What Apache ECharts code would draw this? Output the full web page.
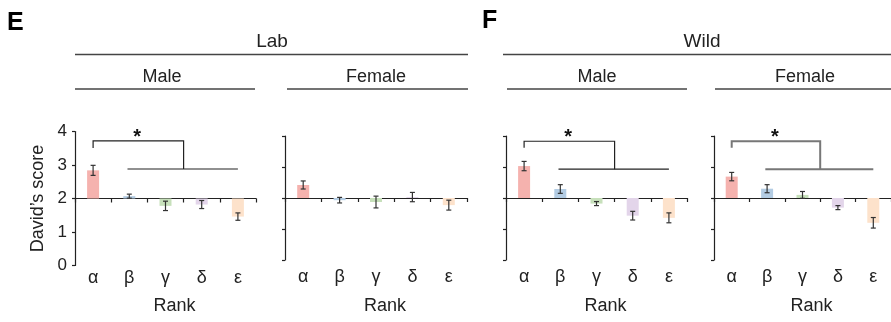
<!DOCTYPE html>
<html>
<head>
<meta charset="utf-8">
<script src="https://cdn.jsdelivr.net/npm/echarts@6/dist/echarts.min.js"></script>
<style>
  html, body { margin: 0; padding: 0; background: #fff; }
  #chart { width: 891px; height: 322px; }
</style>
</head>
<body>
<div id="chart"></div>
<script>
// Rank categories and tick values
const ranks = ['α', 'β', 'γ', 'δ', 'ε'];
const yTicks = [0, 1, 2, 3, 4];

// David's score (mean) and SEM per rank
const labMale = [2.84, 2.07, 1.78, 1.82, 1.46];
const labMaleErr = [0.15, 0.06, 0.14, 0.12, 0.11];
const labFemale = [2.42, 1.93, 1.87, 2.03, 1.77];
const labFemaleErr = [0.13, 0.09, 0.19, 0.15, 0.16];
const wildMale = [3.03, 2.29, 1.82, 1.43, 1.36];
const wildMaleErr = [0.15, 0.14, 0.065, 0.14, 0.16];
const wildFemale = [2.69, 2.30, 2.10, 1.69, 1.20];
const wildFemaleErr = [0.135, 0.13, 0.11, 0.065, 0.17];

// Baseline of the score (expected value for random rank)
const baseline = 2;

const rankColors = ['#f5b2ae', '#b3cce3', '#c7e0bb', '#e3d5ea', '#fde2cb'];

// Panel frames
const panels = [
  { left: 75, top: 131.5, width: 181, height: 134, values: labMale, errs: labMaleErr, yLabels: true, labelMargin: 4,
    bracket: { yTop: 3.72, yDrop: 3.51, yLow: 2.88, yStar: 3.96 }, bracketColor: '#222', bracketWidth: 1.2 },
  { left: 285, top: 136, width: 182, height: 124, values: labFemale, errs: labFemaleErr, yLabels: false, labelMargin: 8,
    bracket: null },
  { left: 506, top: 136, width: 181, height: 124, values: wildMale, errs: wildMaleErr, yLabels: false, labelMargin: 8,
    bracket: { yTop: 3.83, yDrop: 3.62, yLow: 2.93, yStar: 4.1 }, bracketColor: '#222', bracketWidth: 1.2 },
  { left: 714, top: 136, width: 182.5, height: 124, values: wildFemale, errs: wildFemaleErr, yLabels: false, labelMargin: 8,
    bracket: { yTop: 3.83, yDrop: 3.62, yLow: 2.93, yStar: 4.1 }, bracketColor: '#777', bracketWidth: 2 }
];

const FONT = 'Liberation Sans, Arial, sans-serif';

const grid = [], xAxis = [], yAxis = [], series = [];

// position along the category axis at a fractional index
function catX(api, idx, y) {
  const a = api.coord([0, y]);
  const b = api.coord([1, y]);
  return [a[0] + (b[0] - a[0]) * idx, a[1]];
}

panels.forEach((p, i) => {
  grid.push({ left: p.left, top: p.top, width: p.width, height: p.height });

  // label axis at the bottom of the panel
  xAxis.push({
    type: 'category', gridIndex: i, data: ranks, position: 'bottom',
    axisLine: { show: false }, axisTick: { show: false },
    axisLabel: { color: '#222', fontSize: 18, fontFamily: FONT, margin: p.labelMargin },
    name: 'Rank', nameLocation: 'middle', nameGap: (p.yLabels ? 32 : 37),
    nameTextStyle: { color: '#222', fontSize: 18, fontFamily: FONT, padding: [0, 0, 0, 18] }
  });
  // baseline axis drawn across the score of 2
  xAxis.push({
    type: 'category', gridIndex: i, data: ranks, position: 'bottom',
    offset: -p.height * (baseline - yTicks[0]) / (yTicks[yTicks.length - 1] - yTicks[0]),
    axisLine: { show: true, lineStyle: { color: '#222', width: 1.2 } },
    axisTick: { show: true, length: 4, lineStyle: { color: '#222', width: 1.2 } },
    axisLabel: { show: false }
  });

  yAxis.push({
    type: 'value', gridIndex: i, min: yTicks[0], max: yTicks[yTicks.length - 1], interval: 1,
    splitLine: { show: false },
    axisLine: { show: true, lineStyle: { color: '#222', width: 1.2 } },
    axisTick: { show: true, length: 3, lineStyle: { color: '#222', width: 1.2 } },
    axisLabel: { show: p.yLabels, color: '#222', fontSize: 17, fontFamily: FONT, margin: 8 },
    name: p.yLabels ? 'David\u2019s score' : '',
    nameLocation: 'middle', nameGap: 28, nameRotate: 90,
    nameTextStyle: { color: '#222', fontSize: 18, fontFamily: FONT }
  });

  const data = p.values.map((v, k) => [k, v, p.errs[k]]);

  // bars from the baseline plus SEM whiskers
  series.push({
    type: 'custom', xAxisIndex: i * 2, yAxisIndex: i, data: data, z: 3,
    renderItem: function (params, api) {
      const k = api.value(0), v = api.value(1), e = api.value(2);
      const b = api.coord([k, baseline]);
      const t = api.coord([k, v]);
      const hi = api.coord([k, v + e]);
      const lo = api.coord([k, v - e]);
      const w = 12, cap = 2.5;
      const y0 = Math.min(b[1], t[1]), h = Math.abs(b[1] - t[1]);
      const ls = { stroke: '#333', lineWidth: 1.2 };
      return {
        type: 'group',
        children: [
          { type: 'rect', shape: { x: b[0] - w / 2, y: y0, width: w, height: h }, style: { fill: rankColors[k] } },
          { type: 'line', shape: { x1: hi[0], y1: hi[1], x2: lo[0], y2: lo[1] }, style: ls },
          { type: 'line', shape: { x1: hi[0] - cap, y1: hi[1], x2: hi[0] + cap, y2: hi[1] }, style: ls },
          { type: 'line', shape: { x1: lo[0] - cap, y1: lo[1], x2: lo[0] + cap, y2: lo[1] }, style: ls }
        ]
      };
    }
  });

  // significance bracket: alpha vs. the other ranks
  if (p.bracket) {
    const bk = p.bracket;
    series.push({
      type: 'custom', xAxisIndex: i * 2, yAxisIndex: i, data: [[0]], z: 4, clip: false,
      renderItem: function (params, api) {
        const ls = { stroke: p.bracketColor, lineWidth: p.bracketWidth, fill: null };
        const a = catX(api, 0, bk.yDrop);
        const aTop = catX(api, 0, bk.yTop);
        const mTop = catX(api, 2.5, bk.yTop);
        const mLow = catX(api, 2.5, bk.yLow);
        const l1 = catX(api, 0.95, bk.yLow);
        const l2 = catX(api, 4.0, bk.yLow);
        const st = catX(api, 1.22, bk.yStar);
        return {
          type: 'group',
          children: [
            { type: 'polyline', shape: { points: [a, aTop, mTop, mLow] }, style: ls },
            { type: 'line', shape: { x1: l1[0], y1: l1[1], x2: l2[0], y2: l2[1] }, style: ls },
            { type: 'text', x: st[0], y: st[1] + 5,
              style: { text: '*', fill: '#111', font: 'bold 20px ' + FONT, align: 'center', verticalAlign: 'middle' } }
          ]
        };
      }
    });
  }
});

// headers
const headText = (text, x, y, size, bold) => ({
  type: 'text', x: x, y: y,
  style: { text: text, fill: bold ? '#000' : '#222', font: (bold ? 'bold ' : '') + size + 'px ' + FONT,
           align: bold ? 'left' : 'center', verticalAlign: 'middle' }
});
const headLine = (x1, x2, y) => ({
  type: 'line', shape: { x1: x1, y1: y, x2: x2, y2: y }, style: { stroke: '#444', lineWidth: 1.3 }
});

const graphic = [
  headText('E', 7, 23, 25, true),
  headText('F', 482, 21, 25, true),
  headText('Lab', 272, 42, 19), headLine(75, 468, 54.5),
  headText('Wild', 702, 42, 19), headLine(503, 891, 54.5),
  headText('Male', 162, 77, 18), headLine(75, 255, 89),
  headText('Female', 376, 77, 18), headLine(287, 468, 89),
  headText('Male', 597, 77, 18), headLine(507, 687, 89),
  headText('Female', 805, 77, 18), headLine(715, 891, 89)
];

const chart = echarts.init(document.getElementById('chart'), null, { renderer: 'canvas' });
chart.setOption({
  animation: false,
  backgroundColor: '#fff',
  grid: grid, xAxis: xAxis, yAxis: yAxis, series: series, graphic: graphic
});
</script>
</body>
</html>
